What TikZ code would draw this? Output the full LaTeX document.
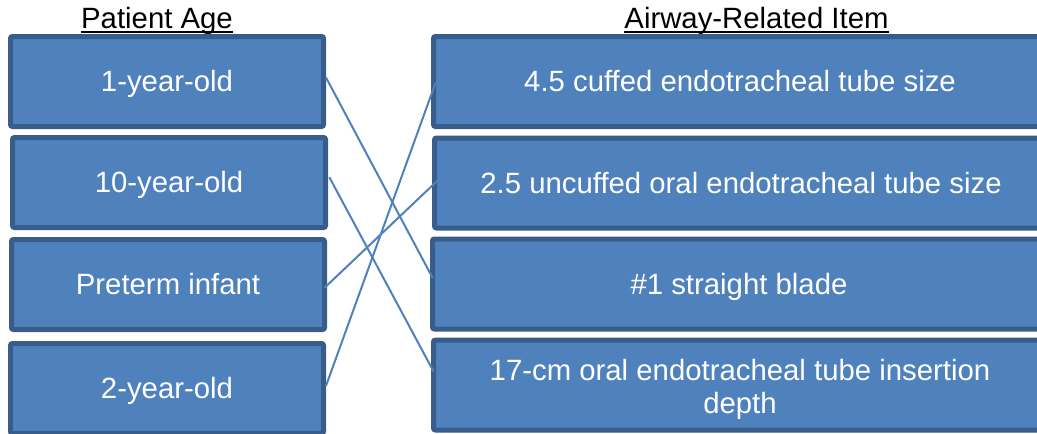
\documentclass[tikz,border=0pt]{standalone}
\usepackage{fontspec}
\setmainfont{Liberation Sans}
\definecolor{boxfill}{HTML}{4F81BD}
\definecolor{boxline}{HTML}{385D8A}
\newcommand{\pxunit}{0.75pt}
\tikzset{
  agebox/.style = {draw = boxline, line width = 3.75pt, fill = boxfill, rounded corners = 1.5pt,
    text = white, font = \fontsize{22}{24.75}\selectfont, align = center, inner sep = 0pt,
    minimum height = 67.5pt, text height = 19.9pt, text depth = 4.66pt},
  itembox/.style = {agebox, minimum width = 459.75pt},
  heading/.style = {font = \fontsize{22}{24.75}\selectfont, inner xsep = 0pt, anchor = base},
  link/.style = {draw = boxfill, line width = 1.5pt}
}
\begin{document}
\begin{tikzpicture}[x = \pxunit, y = -\pxunit]
\clip (0,0) rectangle (1037,433);

\node [heading] (h1) at (157,28) {Patient Age};
\node [heading] (h2) at (756.5,28) {Airway-Related Item};
\draw [line width = 1.5pt] ([yshift=-3pt]h1.base west) -- ([yshift=-3pt]h1.base east);
\draw [line width = 1.5pt] ([yshift=-3pt]h2.base west) -- ([yshift=-3pt]h2.base east);

\node [agebox, minimum width = 234.75pt] (a1) at (167,81.5) {1-year-old};
\node [agebox, minimum width = 234.75pt] (a2) at (169,182.5) {10-year-old};
\node [agebox, minimum width = 234.75pt] (a3) at (168,284.5) {Preterm infant};
\node [agebox, minimum width = 234.75pt] (a4) at (167,388.5) {2-year-old};

\node [itembox] (i1) at (740,81.5) {4.5 cuffed endotracheal tube size};
\node [itembox] (i2) at (741,183) {2.5 uncuffed oral endotracheal tube size};
\node [itembox] (i3) at (739,284) {\#1 straight blade};
\node [itembox, text height = {}, text depth = {}] (i4) at (740,385) {\rule{0pt}{22pt}17-cm oral endotracheal tube insertion\\depth};

\draw [link] ([yshift=3pt]a1.east) edge ([xshift=2pt,yshift=4.5pt]i3.west);
\draw [link] ([xshift=1pt,yshift=4pt]a2.east) edge ([xshift=2pt,yshift=10pt]i4.west);
\draw [link] ([xshift=-2pt,yshift=-2.6pt]a3.east) edge ([xshift=7pt,yshift=4.5pt]i2.west);
\draw [link] ([yshift=2pt]a4.east) edge ([xshift=3.4pt,yshift=-1pt]i1.west);
\end{tikzpicture}
\end{document}
